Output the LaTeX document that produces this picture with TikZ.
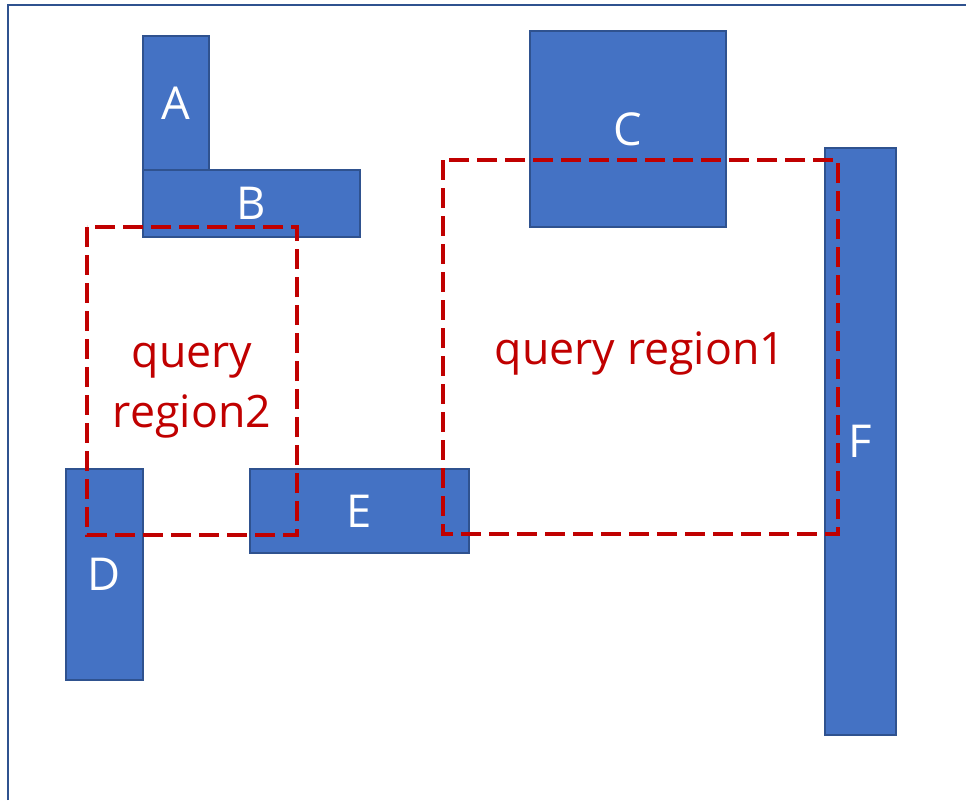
\documentclass[tikz,border=0pt]{standalone}
\usepackage{fontspec}
\setmainfont{Open Sans}
\definecolor{boxfill}{HTML}{4472C4}
\definecolor{boxline}{HTML}{2F528F}
\definecolor{qred}{HTML}{C00000}
\begin{document}
\begin{tikzpicture}[x=0.75pt,y=-0.75pt,
  blk/.style={draw=boxline, fill=boxfill, line width=1pt, inner sep=0pt,
    text=white, font=\fontsize{34}{40}\selectfont},
  qbox/.style={draw=qred, line width=2.4pt, dash pattern=on 15pt off 6pt},
  qtext/.style={text=qred, font=\fontsize{33.5}{45}\selectfont, align=center, anchor=base, inner sep=0pt}]
\useasboundingbox (0,0) rectangle (966,800);
\coordinate (fbl) at (8,800);
\coordinate (ftl) at (8,5);
\coordinate (ftr) at (966,5);
\draw[boxline, line width=1.5pt] (fbl) -- (ftl) -- (ftr);
\node[blk, minimum width=49.5pt, minimum height=100.5pt] (A) at (176,103) {A};
\node[blk, minimum width=162.75pt, minimum height=50.25pt] (B) at (251.5,203.5) {B};
\node[blk, minimum width=147pt, minimum height=147pt] (C) at (628,129) {C};
\node[blk, minimum width=57.75pt, minimum height=158.25pt] (D) at (104.5,574.5) {D};
\node[blk, minimum width=164.25pt, minimum height=63pt] (E) at (359.5,511) {E};
\node[blk, minimum width=53.25pt, minimum height=440.25pt] (F) at (860.5,441.5) {F};
\coordinate (q2a) at (87,227);
\coordinate (q2b) at (297,535);
\coordinate (q1a) at (443,160);
\coordinate (q1b) at (838,534);
\draw[qbox] (q2a) rectangle (q2b);
\draw[qbox] (q1a) rectangle (q1b);
\node[qtext] (t1) at (640,364) {query region1};
\node[qtext] (t2) at (192,427) {query\\region2};
\end{tikzpicture}
\end{document}
